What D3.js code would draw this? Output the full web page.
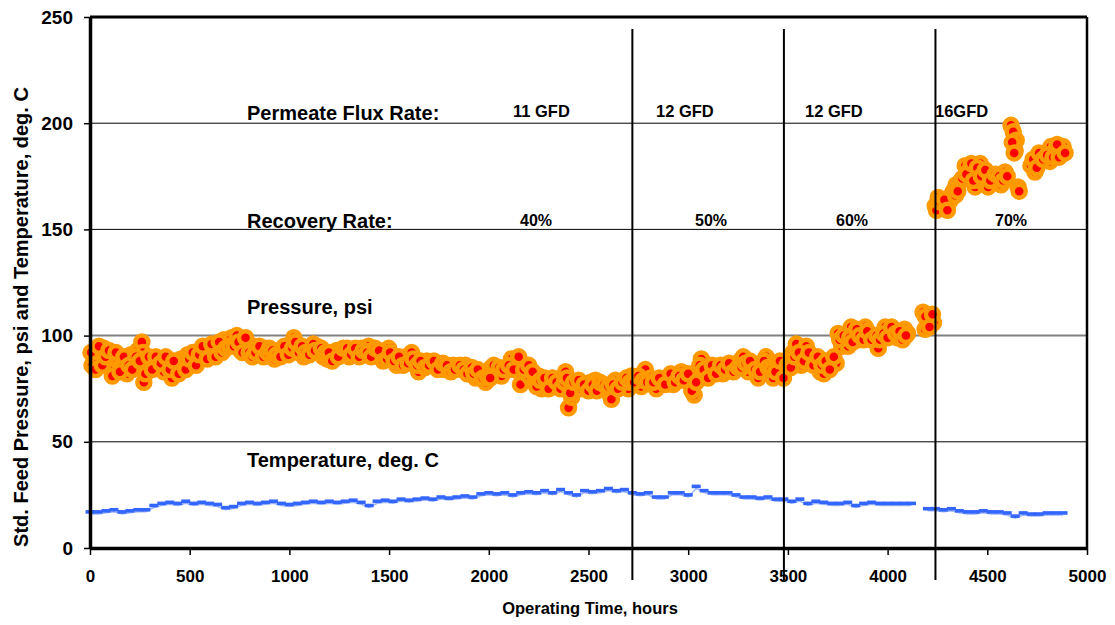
<!DOCTYPE html>
<meta charset="utf-8">
<script src="https://d3js.org/d3.v7.min.js"></script>
<style>
  body { margin: 0; background: #fff; }
  text { font-family: Arial, "Liberation Sans", sans-serif; font-weight: bold; fill: #000; }
</style>
<div id="chart"></div>
<script>
// ---- data ----
// std. feed pressure, psi (first pass of readings)
var pressHours = [
  10,20,35,50,70,85,100,105,120,140,
  160,185,205,220,240,260,265,270,285,305,
  320,340,371,390,411,430,456,470,490,506,
  525,540,556,575,600,621,640,655,671,690,
  710,736,756,770,790,805,822,840,860,880,
  907,925,945,965,987,1005,1022,1040,1055,1072,
  1090,1110,1137,1150,1170,1190,1207,1225,1237,1260,
  1282,1300,1320,1340,1360,1380,1397,1420,1440,1460,
  1480,1498,1513,1538,1560,1585,1613,1630,1648,1665,
  1690,1713,1735,1760,1780,1798,1820,1845,1865,1883,
  1900,1934,1960,1984,2000,2014,2040,2064,2090,2114,
  2140,2159,2164,2190,2210,2230,2250,2265,2290,2310,
  2330,2350,2370,2385,2400,2415,2440,2465,2490,2510,
  2535,2550,2565,2590,2615,2635,2660,2685,2700,2715,
  2740,2765,2785,2810,2840,2870,2900,2925,2945,2966,
  2990,3010,3026,3030,3050,3066,3090,3110,3130,3151,
  3175,3195,3216,3240,3260,3276,3301,3320,3351,3370,
  3391,3410,3426,3450,3470,3487,3505,3525,3542,3567,
  3592,3617,3640,3662,3680,3700,3720,3742,3752,3770,
  3790,3802,3817,3835,3852,3870,3888,3910,3938,3953,
  3970,3988,4010,4030,4050,4068,4085,4100,4178,4188,
  4200,4218,4230,4239,4254,4270,4294,4310,4319,4330,
  4344,4360,4389,4410,4439,4439,4464,4480,4504,4504,
  4530,4550,4569,4589,4619,4630,4645,4640,4654,4719,
  4739,4755,4769,4789,4814,4819,4840,4870,4880
];
var pressPsi = [
  86,90,88,92,94,87,85,89,84,88,
  86,82,91,88,93,97,92,78,84,87,
  88,85,83,86,80,84,89,87,91,86,
  90,88,93,91,94,93,92,95,98,96,
  99,100,93,97,94,91,95,93,92,94,
  91,89,93,92,93,95,99,96,94,90,
  93,95,95,92,90,89,90,92,93,91,
  92,90,93,92,94,91,95,93,92,90,
  91,94,91,86,88,90,92,88,83,86,
  88,87,85,86,84,84,86,85,84,86,
  83,80,82,78,83,85,83,81,84,89,
  86,77,87,82,80,78,81,75,77,79,
  76,78,80,83,66,71,77,75,76,78,
  79,76,75,74,70,79,77,78,75,81,
  79,76,84,80,75,78,80,77,80,83,
  80,78,77,72,82,89,85,82,84,84,
  82,85,84,86,88,90,83,86,80,85,
  90,87,80,86,82,84,88,92,96,86,
  95,90,88,83,82,86,88,87,101,95,
  97,95,104,100,98,102,104,101,97,94,
  100,104,102,100,99,100,103,101,111,103,
  108,108,106,161,165,160,160,163,166,168,
  171,172,180,178,177,170,181,172,176,170,
  174,172,171,177,199,196,192,187,170,180,
  177,182,184,186,182,189,187,186,189
];
// second pass of pressure readings (points in between)
var pressHours2 = [
  5,28,45,62,78,95,112,130,150,170,
  195,212,230,250,278,295,312,330,355,380,
  400,420,445,480,498,515,532,548,565,588,
  610,630,648,662,680,700,722,745,765,780,
  798,815,830,850,870,890,900,915,935,955,
  975,995,1015,1030,1048,1064,1080,1100,1120,1128,
  1160,1180,1198,1215,1245,1270,1290,1310,1330,1350,
  1370,1390,1410,1430,1450,1470,1490,1505,1525,1550,
  1570,1595,1620,1640,1658,1680,1700,1725,1745,1770,
  1790,1810,1830,1855,1875,1893,1915,1925,1945,1970,
  1992,2007,2025,2052,2075,2100,2125,2150,2175,2200,
  2220,2240,2258,2280,2300,2320,2340,2360,2378,2392,
  2408,2425,2450,2478,2500,2522,2542,2558,2578,2600,
  2625,2648,2670,2690,2708,2728,2750,2775,2795,2825,
  2855,2885,2912,2935,2955,2978,3000,3018,3040,3058,
  3078,3100,3120,3140,3162,3185,3205,3228,3250,3268,
  3288,3310,3335,3360,3380,3400,3418,3438,3460,3478,
  3495,3515,3533,3555,3580,3605,3628,3650,3670,3690,
  3710,3730,3760,3780,3810,3825,3845,3860,3880,3898,
  3920,3945,3962,3980,4000,4020,4040,4060,4075,4092,
  4190,4210,4225,4245,4262,4285,4300,4340,4352,4375,
  4395,4420,4430,4450,4470,4490,4515,4540,4560,4580,
  4600,4625,4635,4660,4730,4748,4760,4780,4800,4830,
  4850,4860,4890
];
var pressPsi2 = [
  92,84,95,86,90,93,81,92,83,90,
  86,84,90,88,82,90,84,90,87,90,
  84,88,82,84,89,92,86,91,95,89,
  96,90,97,92,94,95,95,97,92,99,
  92,90,92,95,90,92,94,93,91,90,
  95,91,94,97,92,95,92,91,96,93,
  94,92,92,88,90,94,94,91,94,90,
  93,92,90,94,93,88,89,92,88,90,
  86,87,89,86,88,85,86,88,84,87,
  86,83,84,86,84,82,85,82,84,80,
  81,80,86,85,84,86,84,90,84,86,
  83,76,79,80,75,80,78,75,78,80,
  73,78,79,77,74,77,74,78,77,76,
  77,75,78,80,78,78,81,79,78,78,
  80,77,82,78,81,79,82,74,78,86,
  84,80,86,82,86,84,87,83,85,85,
  87,88,84,83,88,85,84,83,88,80,
  86,85,90,92,88,92,86,90,86,88,
  84,90,98,100,99,97,103,100,98,102,
  98,100,98,101,99,104,101,102,98,100,
  109,104,110,159,163,164,159,166,168,174,
  176,181,173,179,175,178,173,176,175,173,
  175,191,186,168,183,179,186,183,185,184,
  190,184,186
];

// temperature, deg. C (null = no reading)
var tempHours = [
  0,40,80,120,160,200,240,280,320,360,
  400,440,480,520,560,600,640,680,720,760,
  800,840,880,920,960,1000,1040,1080,1120,1160,
  1200,1240,1280,1320,1360,1400,1440,1480,1520,1560,
  1600,1640,1680,1720,1760,1800,1840,1880,1920,1960,
  2000,2040,2080,2120,2160,2200,2240,2280,2320,2360,
  2400,2440,2480,2520,2560,2600,2640,2680,2720,2760,
  2800,2840,2880,2920,2960,3000,3040,3080,3120,3160,
  3200,3240,3280,3320,3360,3400,3440,3480,3520,3560,
  3600,3640,3680,3720,3760,3800,3840,3880,3920,3960,
  4000,4040,4080,4120,4160,4200,4240,4280,4320,4360,
  4400,4440,4480,4520,4560,4600,4640,4680,4720,4760,
  4800,4840,4880
];
var tempDegC = [
  17,17,17.5,18,17,17.5,18,18,20,21,
  21.5,21,22,21,21.5,21,20.5,19,19.5,21,
  21.5,21,21.5,22,21,20.5,21,21.5,22,21.5,
  22,21.5,22,22.5,21.5,20,22,22.5,22,23,
  22.5,23,23.5,23,24,23.5,24,24.5,24,25.5,
  26,25.5,26,25,26,26.5,26,27,26,27.5,
  26,25,27,26.5,27,28,27,27.5,26,25.5,
  26,24,24,26,26,25,29,27,26,26,
  26,25,24,24,23.5,24,23,23,22,23,
  21,22,21.5,21,21,21.5,20,21,21.5,21,
  21,21,21,21,null,18.5,18.5,18,18.5,17.5,
  17,17,17.5,17,17,16.5,15,16.5,16,16,
  16.5,16.5,16.5
];

// operating phases
var phaseStarts = [2720, 3480, 4240];
var fluxLabels = ["11 GFD", "12 GFD", "12 GFD", "16GFD"];
var recoveryLabels = ["40%", "50%", "60%", "70%"];
var xTicks = [0, 500, 1000, 1500, 2000, 2500, 3000, 3500, 4000, 4500, 5000];
var yTicks = [0, 50, 100, 150, 200, 250];

// ---- layout ----
var W = 1115, H = 625;
var svg = d3.select("#chart").append("svg")
  .attr("width", W).attr("height", H);

var x = d3.scaleLinear().domain([0, 5000]).range([90, 1087]);
var y = d3.scaleLinear().domain([0, 250]).range([548, 17]);

// horizontal gridlines
svg.append("g").selectAll("line")
  .data([50, 100, 150, 200])
  .join("line")
    .attr("x1", x(0)).attr("x2", x(5000))
    .attr("y1", d => y(d)).attr("y2", d => y(d))
    .attr("stroke", d => d === 100 ? "#808080" : "#000")
    .attr("stroke-width", d => d === 100 ? 2 : 1);

// temperature
var temp = tempHours.map((h, i) => ({h: h, v: tempDegC[i]}));
svg.append("path")
  .datum(temp)
  .attr("fill", "none")
  .attr("stroke", "#9fb6f5")
  .attr("stroke-width", 1.5)
  .attr("transform", "translate(0,2)")
  .attr("d", d3.line().defined(d => d.v != null).x(d => x(d.h)).y(d => y(d.v)));
svg.append("g").selectAll("rect")
  .data(temp.filter(d => d.v != null))
  .join("rect")
    .attr("x", d => x(d.h) - 4.5)
    .attr("y", d => y(d.v) - 1.8)
    .attr("width", 9)
    .attr("height", 3.6)
    .attr("fill", "#3366ff");

// pressure markers
var press = pressHours.map((h, i) => ({h: h, v: pressPsi[i]}))
  .concat(pressHours2.map((h, i) => ({h: h, v: pressPsi2[i]})));
svg.append("g").selectAll("circle")
  .data(press)
  .join("circle")
    .attr("cx", d => x(d.h))
    .attr("cy", d => y(d.v))
    .attr("r", 6.5)
    .attr("fill", "#ff0000")
    .attr("stroke", "#ff9900")
    .attr("stroke-width", 4.5);

// phase boundaries
svg.append("g").selectAll("line")
  .data(phaseStarts)
  .join("line")
    .attr("x1", d => x(d)).attr("x2", d => x(d))
    .attr("y1", 29).attr("y2", 580)
    .attr("stroke", "#000")
    .attr("stroke-width", 2);

// frame
svg.append("line")
  .attr("x1", x(0)).attr("x2", x(5000)).attr("y1", y(250)).attr("y2", y(250))
  .attr("stroke", "#000").attr("stroke-width", 3);
svg.append("line")
  .attr("x1", x(5000)).attr("x2", x(5000)).attr("y1", y(250)).attr("y2", y(0))
  .attr("stroke", "#000").attr("stroke-width", 2.5);

// axes
var xAxis = svg.append("g")
  .attr("transform", "translate(0," + y(0) + ")")
  .call(d3.axisBottom(x).tickValues(xTicks).tickFormat(d3.format("d"))
    .tickSize(7).tickSizeOuter(0).tickPadding(15));
xAxis.select(".domain").attr("stroke-width", 3.5);
xAxis.selectAll(".tick line").attr("stroke-width", 1.5);
xAxis.selectAll("text").style("font-size", "17px");

var yAxis = svg.append("g")
  .attr("transform", "translate(" + x(0) + ",0)")
  .call(d3.axisLeft(y).tickValues(yTicks).tickSize(6).tickSizeOuter(0).tickPadding(11));
yAxis.select(".domain").attr("stroke-width", 3.5);
yAxis.selectAll(".tick line").attr("stroke-width", 1.5);
yAxis.selectAll("text").style("font-size", "19px");

// axis titles
svg.append("text")
  .attr("x", 590).attr("y", 614)
  .attr("text-anchor", "middle")
  .style("font-size", "16.5px")
  .text("Operating Time, hours");
svg.append("text")
  .attr("transform", "translate(28,317) rotate(-90)")
  .attr("text-anchor", "middle")
  .style("font-size", "20px")
  .text("Std. Feed Pressure, psi and Temperature, deg. C");

// annotations
var notes = [
  {t: "Permeate Flux Rate:", y: 120},
  {t: "Recovery Rate:", y: 228},
  {t: "Pressure, psi", y: 314},
  {t: "Temperature, deg. C", y: 467}
];
svg.append("g").selectAll("text")
  .data(notes)
  .join("text")
    .attr("x", 247).attr("y", d => d.y)
    .style("font-size", "20px")
    .text(d => d.t);

var fluxX = [513, 656, 805, 935];
var recX = [520, 695, 836, 995];
svg.append("g").selectAll("text")
  .data(fluxLabels)
  .join("text")
    .attr("x", (d, i) => fluxX[i]).attr("y", 117)
    .style("font-size", "16.5px")
    .text(d => d);
svg.append("g").selectAll("text")
  .data(recoveryLabels)
  .join("text")
    .attr("x", (d, i) => recX[i]).attr("y", 226)
    .style("font-size", "16px")
    .text(d => d);
</script>
